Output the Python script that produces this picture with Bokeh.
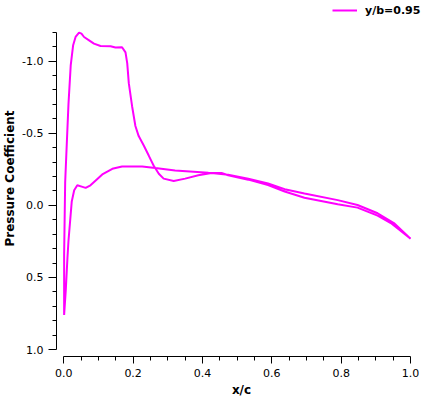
from bokeh.plotting import figure
from bokeh.models import (Range1d, FixedTicker, NumeralTickFormatter,
                          Legend, LegendItem, ColumnDataSource)
from bokeh.embed import file_html
from bokeh.resources import INLINE

# Upper (suction) surface, leading edge -> trailing edge
x_upper = [0.001, 0.001, 0.004, 0.008, 0.0135, 0.020, 0.027, 0.034, 0.044, 0.051,
           0.0585, 0.073, 0.087, 0.106, 0.135, 0.149, 0.168, 0.178, 0.183, 0.1875,
           0.197, 0.2065, 0.216, 0.231, 0.245, 0.259, 0.274, 0.288, 0.317, 0.350,
           0.388, 0.426, 0.474, 0.532, 0.589, 0.637, 0.694, 0.790, 0.847, 0.905,
           0.952, 1.0]
cp_upper = [0.76, 0.34, -0.16, -0.39, -0.70, -0.97, -1.11, -1.167, -1.197, -1.19,
            -1.167, -1.144, -1.121, -1.105, -1.103, -1.094, -1.096, -1.06, -0.984, -0.847,
            -0.687, -0.55, -0.48, -0.413, -0.345, -0.276, -0.219, -0.185, -0.169, -0.185,
            -0.208, -0.224, -0.212, -0.185, -0.151, -0.112, -0.082, -0.036, -0.002, 0.055,
            0.123, 0.231]

# Lower (pressure) surface, leading edge -> trailing edge
x_lower = [0.001, 0.0057, 0.0106, 0.0135, 0.023, 0.030, 0.039, 0.054, 0.063, 0.077,
           0.111, 0.140, 0.168, 0.226, 0.264, 0.321, 0.417, 0.455, 0.474, 0.532,
           0.589, 0.637, 0.694, 0.790, 0.847, 0.905, 0.943, 1.0]
cp_lower = [0.76, 0.59, 0.363, 0.247, -0.027, -0.105, -0.139, -0.128, -0.121, -0.139,
            -0.214, -0.253, -0.269, -0.269, -0.258, -0.242, -0.226, -0.224, -0.209, -0.178,
            -0.140, -0.096, -0.053, -0.007, 0.016, 0.071, 0.123, 0.231]

x_major_ticks = [0.0, 0.2, 0.4, 0.6, 0.8, 1.0]
x_minor_ticks = [0.05, 0.1, 0.15, 0.25, 0.3, 0.35, 0.45, 0.5, 0.55,
                 0.65, 0.7, 0.75, 0.85, 0.9, 0.95]
y_major_ticks = [-1.0, -0.5, 0.0, 0.5, 1.0]
y_minor_ticks = [-1.2, -1.1, -0.9, -0.8, -0.7, -0.6, -0.4, -0.3, -0.2, -0.1,
                 0.1, 0.2, 0.3, 0.4, 0.6, 0.7, 0.8, 0.9]

series_label = "y/b=0.95"
x_title = "x/c"
y_title = "Pressure Coefficient"

xs = x_upper[::-1] + x_lower[1:]
ys = cp_upper[::-1] + cp_lower[1:]
src = ColumnDataSource(dict(x=xs, cp=ys))

p = figure(width=426, height=399, output_backend="svg", toolbar_location=None,
           x_range=Range1d(-0.021, 1.046), y_range=Range1d(1.048, -1.42),
           min_border_left=54, min_border_right=0, min_border_top=0,
           min_border_bottom=40)
p.outline_line_color = None
p.grid.visible = False
p.background_fill_color = "white"
p.border_fill_color = "white"

line = p.line("x", "cp", source=src, line_color="#ff00ff", line_width=2)

font = "DejaVu Sans"
for ax in (p.xaxis[0], p.yaxis[0]):
    ax.axis_line_color = "black"
    ax.axis_line_width = 1
    ax.major_tick_line_color = "black"
    ax.minor_tick_line_color = "black"
    ax.major_tick_line_width = 1
    ax.minor_tick_line_width = 1
    ax.major_tick_in = 0
    ax.minor_tick_in = 0
    ax.minor_tick_out = 4
    ax.major_label_text_font = font
    ax.major_label_text_font_size = "11px"
    ax.major_label_text_color = "black"
    ax.axis_label_text_font = font
    ax.axis_label_text_font_size = "12px"
    ax.axis_label_text_font_style = "bold"
    ax.axis_label_text_color = "black"
    ax.formatter = NumeralTickFormatter(format="0.0")

p.xaxis[0].ticker = FixedTicker(ticks=x_major_ticks, minor_ticks=x_minor_ticks)
p.xaxis[0].bounds = (0, 1.0)
p.xaxis[0].major_tick_out = 7
p.xaxis[0].axis_label = x_title
p.xaxis[0].major_label_standoff = 5
p.xaxis[0].axis_label_standoff = 3

p.yaxis[0].ticker = FixedTicker(ticks=y_major_ticks, minor_ticks=y_minor_ticks)
p.yaxis[0].bounds = (-1.2, 1.0)
p.yaxis[0].major_tick_out = 8
p.yaxis[0].axis_label = y_title
p.yaxis[0].major_label_standoff = 5
p.yaxis[0].axis_label_standoff = 2

legend = Legend(items=[LegendItem(label=series_label, renderers=[line])],
                location=(276, 339), padding=0, margin=0, spacing=0,
                glyph_width=25, glyph_height=14, label_standoff=8,
                border_line_color=None, background_fill_alpha=0,
                label_text_font=font, label_text_font_size="11px",
                label_text_font_style="bold", label_text_color="black")
p.add_layout(legend, "center")

open("out.html", "w").write(file_html(p, INLINE))
